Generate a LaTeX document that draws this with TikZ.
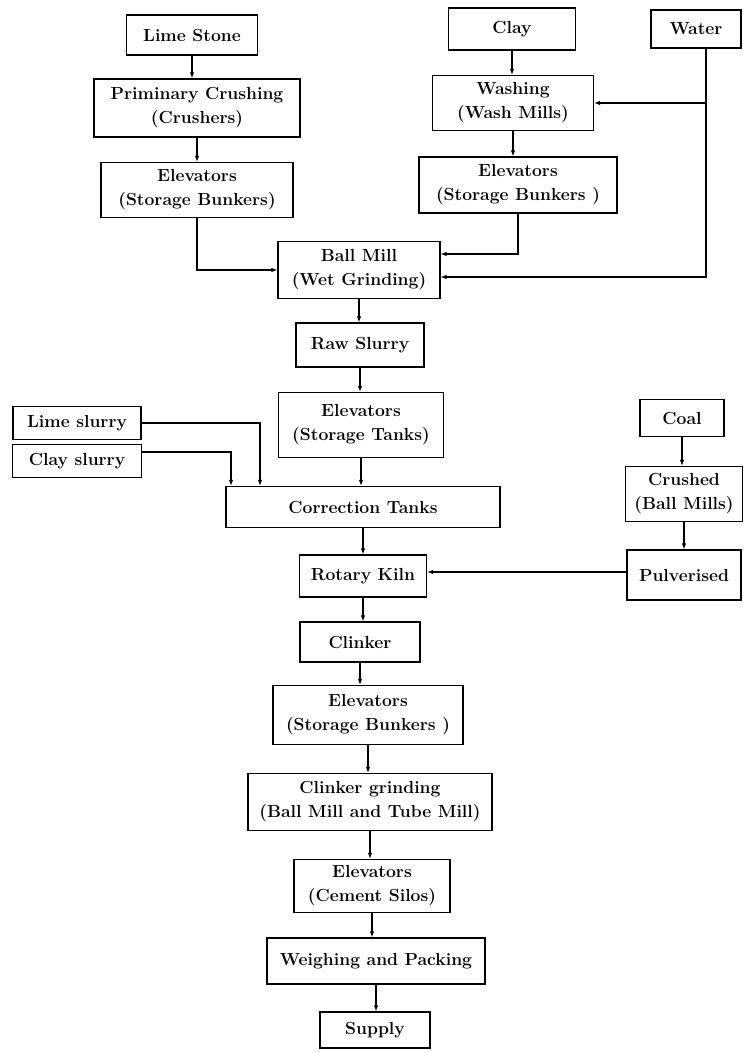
\documentclass[tikz,border=0pt]{standalone}
\usetikzlibrary{arrows.meta}

\tikzset{
  box/.style={draw, line width=1.3pt, align=center, inner sep=2pt,
    font=\fontsize{17.5}{24}\selectfont\bfseries},
  arr/.style={line width=1.1pt, -{Latex[length=6pt,width=4.5pt]}}
}

\begin{document}
\begin{tikzpicture}[x=1pt,y=-1pt]
\useasboundingbox (0,0) rectangle (744,1052);

% left column
\node[box, minimum width=131pt, minimum height=40pt] (lime) at (192,35) {Lime Stone};
\node[box, minimum width=206pt, minimum height=58pt] (crush) at (197,108) {Priminary Crushing\\(Crushers)};
\node[box, minimum width=192pt, minimum height=55pt] (elevl) at (197,190) {Elevators\\(Storage Bunkers)};

% right column
\node[box, minimum width=127pt, minimum height=42pt] (clay) at (512,29) {Clay};
\node[box, minimum width=90pt, minimum height=38pt] (water) at (696,29) {Water};
\node[box, minimum width=161pt, minimum height=55pt] (wash) at (513,103) {Washing\\(Wash Mills)};
\node[box, minimum width=198pt, minimum height=56pt] (elevr) at (518,185) {Elevators\\(Storage Bunkers )};

% main line
\node[box, minimum width=162pt, minimum height=57pt] (ball) at (359,270) {Ball Mill\\(Wet Grinding)};
\node[box, minimum width=128pt, minimum height=44pt] (raw) at (360,345) {Raw Slurry};
\node[box, minimum width=165pt, minimum height=65pt] (tanks) at (361,425) {Elevators\\(Storage Tanks)};
\node[box, minimum width=274pt, minimum height=41pt] (corr) at (363,507) {Correction Tanks};
\node[box, minimum width=127pt, minimum height=42pt] (kiln) at (363,576) {Rotary Kiln};
\node[box, minimum width=120pt, minimum height=40pt] (clinker) at (360,642) {Clinker};
\node[box, minimum width=190pt, minimum height=59pt] (elevb) at (368,715) {Elevators\\(Storage Bunkers )};
\node[box, minimum width=244pt, minimum height=57pt] (grind) at (370,802) {Clinker grinding\\(Ball Mill and Tube Mill)};
\node[box, minimum width=156pt, minimum height=53pt] (silos) at (372,886) {Elevators\\(Cement Silos)};
\node[box, minimum width=218pt, minimum height=46pt] (weigh) at (376,961) {Weighing and Packing};
\node[box, minimum width=110pt, minimum height=36pt] (supply) at (375,1030) {Supply};

% slurries
\node[box, minimum width=128pt, minimum height=33pt] (limes) at (77,423) {Lime slurry};
\node[box, minimum width=129pt, minimum height=33pt] (clays) at (77,461) {Clay slurry};

% coal
\node[box, minimum width=84pt, minimum height=37pt] (coal) at (682,418) {Coal};
\node[box, minimum width=117pt, minimum height=55pt] (crushed) at (684,494) {Crushed\\(Ball Mills)};
\node[box, minimum width=114pt, minimum height=50pt] (pulv) at (684,575) {Pulverised};

% straight arrows down
\foreach \a/\b in {lime/crush, crush/elevl, clay/wash, wash/elevr,
    ball/raw, raw/tanks, tanks/corr, corr/kiln, kiln/clinker,
    clinker/elevb, elevb/grind, grind/silos, silos/weigh, weigh/supply,
    coal/crushed, crushed/pulv}
  \draw[arr] (\a.south) -- (\a.south |- \b.north);

% into the ball mill
\draw[arr] (elevl.south) |- (ball.west);
\draw[arr] (elevr.south) |- ([yshift=16pt]ball.east);
\draw[arr] ([xshift=10pt]water.south) |- ([yshift=-7pt]ball.east);
\draw[arr] ([xshift=10pt]water.south |- wash.east) -- (wash.east);

% into the correction tanks
\draw[arr] (limes.east) -| ([xshift=-103pt]corr.north);
\draw[arr] ([yshift=9pt]clays.east) -| ([xshift=-132pt]corr.north);

% fuel to the kiln
\draw[arr] ([yshift=3pt]pulv.west) -- ([yshift=3pt]pulv.west -| kiln.east);
\end{tikzpicture}
\end{document}
